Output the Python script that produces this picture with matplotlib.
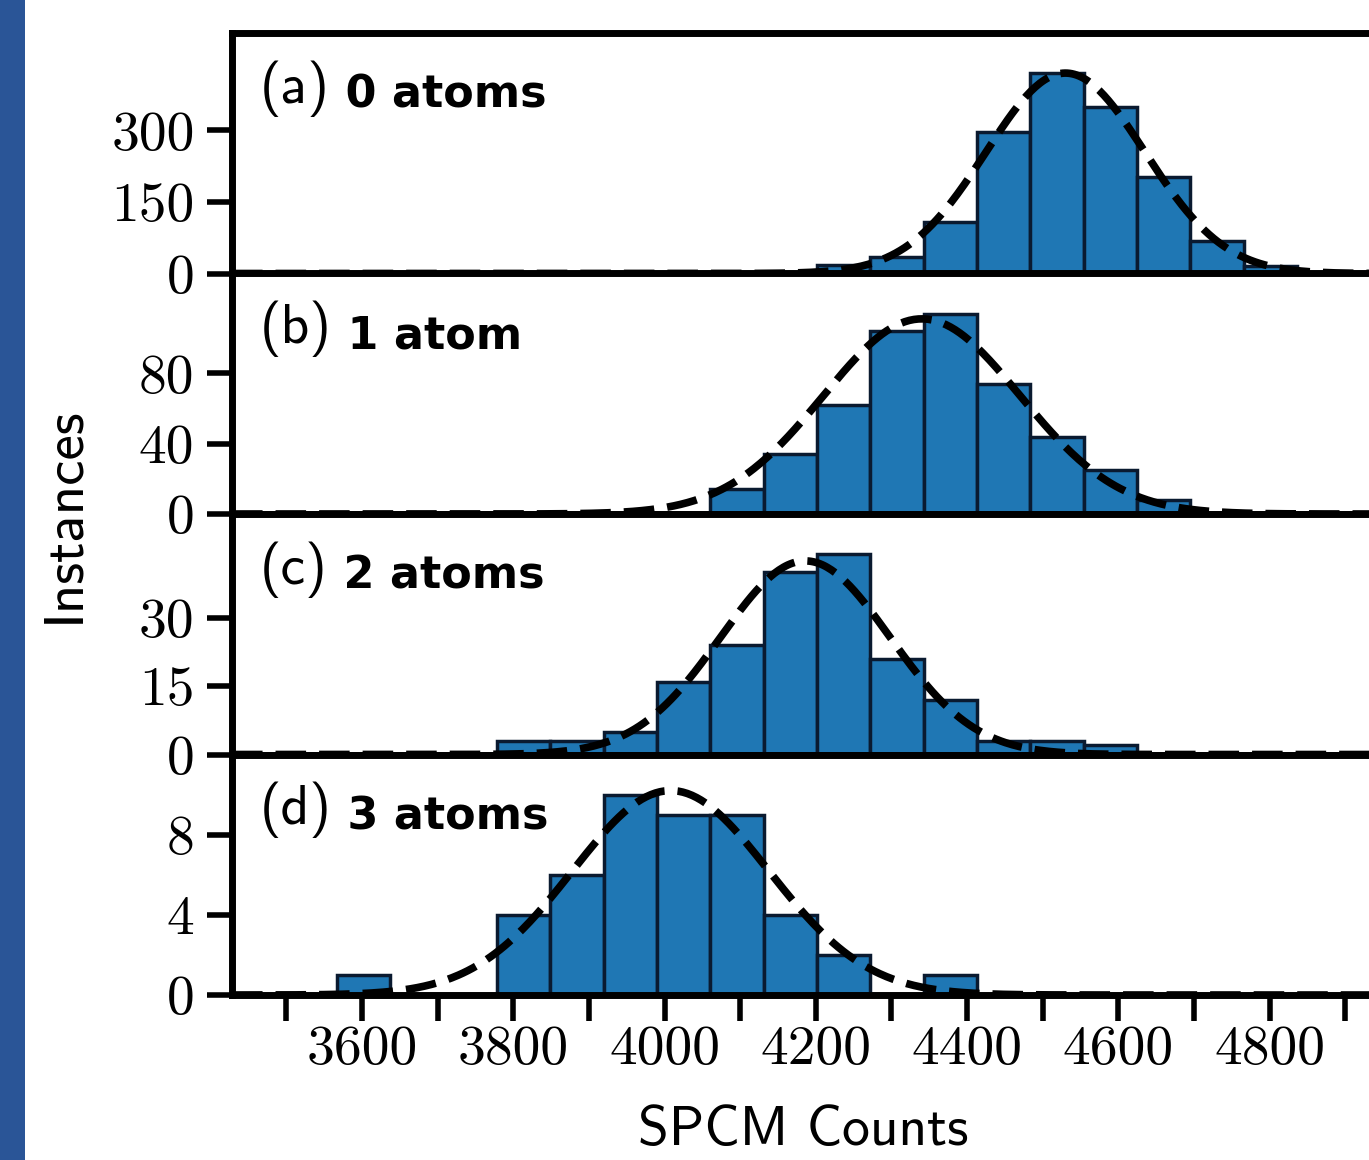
"""
Stacked SPCM count histograms for 0, 1, 2 and 3 atoms with Gaussian fits.
"""

import numpy as np
import matplotlib
matplotlib.use("Agg")
import matplotlib.pyplot as plt
from matplotlib.patches import Rectangle

# histogram bins (SPCM counts)
bin_start = 3567.0
bin_width = 70.5
n_bins = 19

# counts per bin for each atom number
counts_0 = [0, 0, 0, 0, 0, 0, 0, 0, 0, 17, 34, 108, 296, 420, 348, 203, 68, 15, 0]
counts_1 = [0, 0, 0, 0, 0, 0, 0, 14, 34, 62, 104, 114, 74, 44, 25, 8, 0, 0, 0]
counts_2 = [0, 0, 0, 3, 3, 5, 16, 24, 40, 44, 21, 12, 3, 3, 2, 0, 0, 0, 0]
counts_3 = [1, 0, 0, 4, 6, 10, 9, 9, 4, 2, 0, 1, 0, 0, 0, 0, 0, 0, 0]

# gaussian fit parameters (amplitude, mean, sigma)
fit_amp = [420, 111, 42.5, 10.2]
fit_mean = [4530, 4340, 4186, 4008]
fit_sigma = [105, 130, 112, 130]

panel_tags = ["(a)", "(b)", "(c)", "(d)"]
panel_names = ["0 atoms", "1 atom", "2 atoms", "3 atoms"]
y_ticks = [[0, 150, 300], [0, 40, 80], [0, 15, 30], [0, 4, 8]]

x_ticks = [3500, 3600, 3700, 3800, 3900, 4000, 4100, 4200,
           4300, 4400, 4500, 4600, 4700, 4800, 4900]
x_tick_labels = ["", "3600", "", "3800", "", "4000", "", "4200",
                 "", "4400", "", "4600", "", "4800", ""]

x_range = (3428, 4938)


def gauss(x, a, mu, s):
    return a * np.exp(-(x - mu) ** 2 / (2 * s ** 2))


def main():
    W, H = 1369, 1160
    fig = plt.figure(figsize=(W / 100, H / 100), dpi=100)

    # blue strip on the left edge
    fig.patches.append(Rectangle((0, 0), 25 / W, 1, transform=fig.transFigure,
                                 facecolor="#2a5597", edgecolor="none"))

    edges = bin_start + bin_width * np.arange(n_bins + 1)
    lefts = edges[:-1]
    all_counts = [counts_0, counts_1, counts_2, counts_3]
    xs = np.linspace(x_range[0], x_range[1], 500)

    left = 232 / W
    width = (1374 - 232) / W
    top_px = 33
    panel_h = (995 - 33) / 4

    for i in range(4):
        bottom = 1 - (top_px + (i + 1) * panel_h) / H
        ax = fig.add_axes([left, bottom, width, panel_h / H])

        counts = all_counts[i]
        ax.bar(lefts, counts, width=bin_width, align="edge",
               color="#1f77b4", edgecolor="#0a1a30", linewidth=2.5, zorder=2)
        ax.plot(xs, gauss(xs, fit_amp[i], fit_mean[i], fit_sigma[i]),
                color="black", linestyle=(0, (4, 1.7)), linewidth=5.5, zorder=3)

        ax.set_xlim(*x_range)
        ax.set_ylim(0, 1.2 * max(counts))

        for sp in ax.spines.values():
            sp.set_linewidth(5)
            sp.set_zorder(4)

        ax.set_yticks(y_ticks[i])
        ax.set_yticklabels([str(v) for v in y_ticks[i]], fontfamily="cmr10",
                           fontsize=40)
        ax.tick_params(axis="y", direction="out", length=18, width=4, pad=9)

        ax.set_xticks(x_ticks)
        if i == 3:
            ax.set_xticklabels(x_tick_labels, fontfamily="cmr10", fontsize=40)
            ax.tick_params(axis="x", direction="out", length=19, width=4, pad=3)
        else:
            ax.tick_params(axis="x", bottom=False, labelbottom=False)

        # panel label: "(a)" plain, atom number bold
        t = ax.text(0.0245, 0.71, panel_tags[i], transform=ax.transAxes,
                    fontfamily="cmss10", fontsize=40, va="baseline", ha="left")
        ax.annotate(" " + panel_names[i], xy=(1, 0), xycoords=t,
                    fontfamily="DejaVu Sans", fontweight="bold", fontsize=32,
                    va="bottom", ha="left")

    fig.text(64 / W, 1 - 515 / H, "Instances", rotation=90, fontfamily="cmss10",
             fontsize=41, ha="center", va="center")
    fig.text(803 / W, 1 - 1145 / H, "SPCM Counts", fontfamily="cmss10",
             fontsize=40, ha="center", va="baseline")

    fig.savefig("out.png", dpi=100)


if __name__ == "__main__":
    main()
